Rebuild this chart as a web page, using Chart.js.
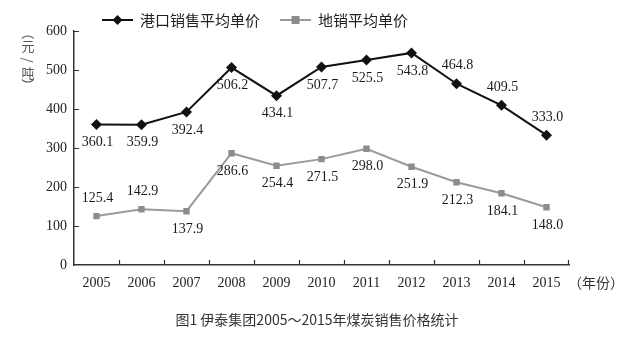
<!DOCTYPE html>
<html>
<head>
<meta charset="utf-8">
<script src="https://cdn.jsdelivr.net/npm/chart.js@4.4.1/dist/chart.umd.min.js"></script>
<style>
  html, body { margin: 0; padding: 0; background: #fff; }
  #wrap { width: 632px; height: 337px; }
</style>
</head>
<body>
<div id="wrap"><canvas id="c" width="632" height="337"></canvas></div>
<script>
// Coal sales prices, Yitai Group 2005–2015 (yuan per tonne)
const years = ['2005', '2006', '2007', '2008', '2009', '2010', '2011', '2012', '2013', '2014', '2015'];
const portPrice = [360.1, 359.9, 392.4, 506.2, 434.1, 507.7, 525.5, 543.8, 464.8, 409.5, 333.0];
const localPrice = [125.4, 142.9, 137.9, 286.6, 254.4, 271.5, 298.0, 251.9, 212.3, 184.1, 148.0];
const seriesNames = ['港口销售平均单价', '地销平均单价'];
const yTicks = [0, 100, 200, 300, 400, 500, 600];
const yTitleChars = ['（', '元', '/', '吨', '）'];
const xUnit = '（年份）';
const caption = '图1 伊泰集团2005～2015年煤炭销售价格统计';

// which value labels sit above their marker (others sit below)
const labelAbove = [
  [false, false, false, false, false, false, false, false, true, true, true],
  [true, true, false, false, false, false, false, false, false, false, false]
];

const SERIF = '"Liberation Serif", "DejaVu Serif", serif';
const CJK = '"Noto Sans CJK SC", "Noto Sans", sans-serif';
const AXIS = '#333';

const decor = {
  id: 'decor',
  afterDatasetsDraw(chart) {
    const ctx = chart.ctx;
    const xs = chart.scales.x, ys = chart.scales.y;
    const area = chart.chartArea;
    ctx.save();

    // inward tick marks
    ctx.strokeStyle = AXIS;
    ctx.lineWidth = 1.2;
    ctx.beginPath();
    yTicks.forEach(v => {
      if (v === 0) return;
      const y = Math.round(ys.getPixelForValue(v)) + 0.5;
      ctx.moveTo(area.left, y);
      ctx.lineTo(area.left + 5, y);
    });
    for (let i = 0; i < years.length; i++) {
      const x = Math.round((xs.getPixelForValue(i) + xs.getPixelForValue(i + 1)) / 2) + 0.5;
      const xx = i === years.length - 1 ? Math.round(area.right) - 0.5 : x;
      ctx.moveTo(xx, area.bottom);
      ctx.lineTo(xx, area.bottom - 5);
    }
    ctx.stroke();

    // value labels
    ctx.font = '14px ' + SERIF;
    ctx.fillStyle = '#1a1a1a';
    ctx.textAlign = 'center';
    ctx.textBaseline = 'middle';
    [portPrice, localPrice].forEach((vals, d) => {
      const meta = chart.getDatasetMeta(d);
      vals.forEach((v, i) => {
        const p = meta.data[i];
        const dy = labelAbove[d][i] ? -18 : 18;
        ctx.fillText(v.toFixed(1), p.x + 1, p.y + dy);
      });
    });

    // y-axis title, stacked vertically; brackets and slash turned a quarter
    ctx.font = '13px ' + CJK;
    ctx.fillStyle = '#555';
    const yPos = [33, 46, 60, 73, 85];
    yTitleChars.forEach((ch, i) => {
      ctx.save();
      ctx.translate(28, yPos[i]);
      if (ch !== '元' && ch !== '吨') ctx.rotate(Math.PI / 2);
      ctx.fillText(ch, 0, 0);
      ctx.restore();
    });

    // x unit after the last year
    ctx.font = '14px ' + CJK;
    ctx.fillStyle = '#333';
    ctx.textAlign = 'left';
    ctx.fillText(xUnit, 568, 283);

    // legend
    const legendItems = [
      { x: 102, color: '#111', style: 'diamond', text: seriesNames[0] },
      { x: 280, color: '#9a9a9a', style: 'square', text: seriesNames[1] }
    ];
    legendItems.forEach(it => {
      const y = 20;
      ctx.strokeStyle = it.color;
      ctx.lineWidth = 2;
      ctx.beginPath();
      ctx.moveTo(it.x, y);
      ctx.lineTo(it.x + 31, y);
      ctx.stroke();
      const cx = it.x + 15.5;
      ctx.fillStyle = it.style === 'diamond' ? '#111' : '#8c8c8c';
      ctx.beginPath();
      if (it.style === 'diamond') {
        ctx.moveTo(cx, y - 5); ctx.lineTo(cx + 5, y); ctx.lineTo(cx, y + 5); ctx.lineTo(cx - 5, y);
        ctx.closePath();
      } else {
        ctx.rect(cx - 4, y - 4, 8, 8);
      }
      ctx.fill();
      ctx.font = '15px ' + CJK;
      ctx.fillStyle = '#222';
      ctx.textAlign = 'left';
      ctx.fillText(it.text, it.x + 38, y);
    });

    // caption
    ctx.font = '14px ' + CJK;
    ctx.fillStyle = '#333';
    ctx.textAlign = 'center';
    ctx.fillText(caption, 317, 320);

    ctx.restore();
  }
};

new Chart(document.getElementById('c'), {
  type: 'line',
  data: {
    labels: years,
    datasets: [
      {
        label: seriesNames[0],
        data: portPrice,
        borderColor: '#111',
        backgroundColor: '#111',
        borderWidth: 2,
        pointStyle: 'rectRot',
        pointRadius: 5.5,
        pointBorderWidth: 0,
        tension: 0
      },
      {
        label: seriesNames[1],
        data: localPrice,
        borderColor: '#9a9a9a',
        backgroundColor: '#8c8c8c',
        borderWidth: 2,
        pointStyle: 'rect',
        pointRadius: 4.5,
        pointBorderWidth: 0,
        tension: 0
      }
    ]
  },
  options: {
    responsive: false,
    animation: false,
    devicePixelRatio: 1,
    layout: { padding: { left: 0, right: 63, top: 31, bottom: 42 } },
    plugins: {
      legend: { display: false },
      tooltip: { enabled: false }
    },
    scales: {
      x: {
        type: 'category',
        offset: true,
        grid: { display: false, drawTicks: false },
        border: { display: true, color: AXIS, width: 1.5 },
        ticks: {
          font: { family: SERIF, size: 14 },
          color: '#222',
          padding: 10,
          maxRotation: 0,
          autoSkip: false
        },
        afterFit(s) { s.height = 30; }
      },
      y: {
        min: 0,
        max: 600,
        afterBuildTicks(s) { s.ticks = yTicks.map(v => ({ value: v })); },
        grid: { display: false, drawTicks: false },
        border: { display: true, color: AXIS, width: 1.5 },
        ticks: {
          font: { family: SERIF, size: 14 },
          color: '#222',
          padding: 7
        },
        afterFit(s) { s.width = 74; }
      }
    }
  },
  plugins: [decor]
});
</script>
</body>
</html>
